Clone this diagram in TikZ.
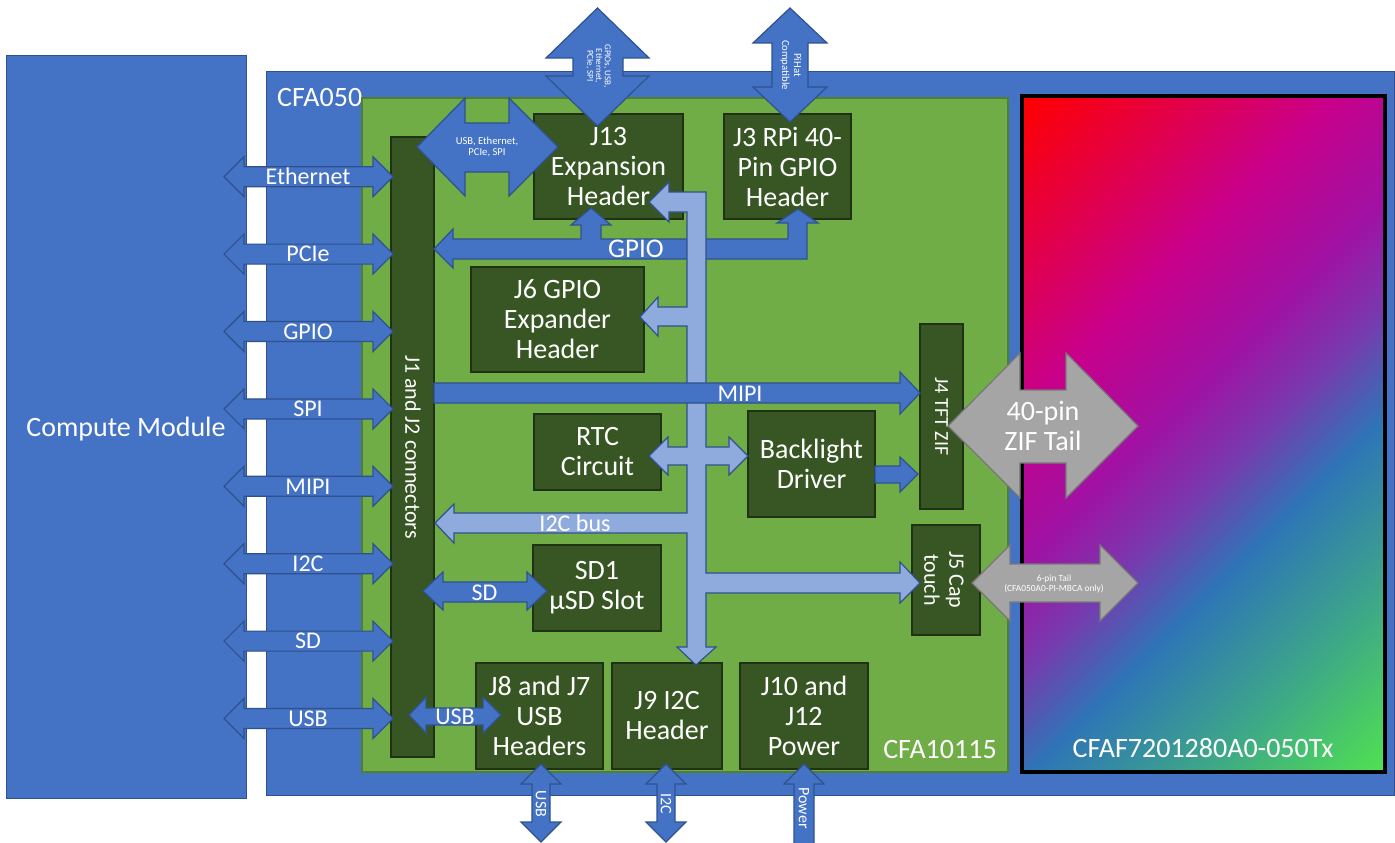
\documentclass[tikz,border=0pt]{standalone}
\usepackage{fontspec}
\setmainfont{Carlito}
\definecolor{mblue}{HTML}{4472C4}
\definecolor{dblue}{HTML}{2F528F}
\definecolor{lblue}{HTML}{8FAADC}
\definecolor{bgreen}{HTML}{70AD47}
\definecolor{bgreenline}{HTML}{507E32}
\definecolor{dgreen}{HTML}{375623}
\definecolor{dgreenline}{HTML}{1F3314}
\definecolor{tgray}{HTML}{A5A5A5}
\definecolor{tgrayline}{HTML}{787878}
\definecolor{dA}{HTML}{FF0000}
\definecolor{dB}{HTML}{C8008A}
\definecolor{dC}{HTML}{A012A4}
\definecolor{dD}{HTML}{7A38AE}
\definecolor{dE}{HTML}{2E75B6}
\definecolor{dF}{HTML}{3DA58A}
\definecolor{dG}{HTML}{50E150}
\pgfdeclarehorizontalshading{dispshade}{100bp}{color(0bp)=(dA); color(25bp)=(dA); color(40bp)=(dB); color(47.5bp)=(dC); color(52.5bp)=(dD); color(58bp)=(dE); color(66bp)=(dF); color(75bp)=(dG); color(100bp)=(dG)}
\tikzset{
  blk/.style={fill=mblue, draw=dblue, line width=1.2pt, line join=miter},
  lblk/.style={fill=lblue, draw=dblue, line width=1.2pt, line join=miter},
  gblk/.style={fill=tgray, draw=tgrayline, line width=1.2pt, line join=miter},
  comp/.style={fill=dgreen, draw=dgreenline, line width=1.5pt, text=white, align=center, inner sep=0pt, font=\fontsize{28}{30}\selectfont},
  lbl/.style={text=white, inner sep=0pt, align=center},
  big/.style={font=\fontsize{28}{30}\selectfont},
  mid/.style={font=\fontsize{24}{26}\selectfont},
}
\begin{document}
\begin{tikzpicture}[x=1pt,y=-1pt]
\useasboundingbox (0,0) rectangle (1395,843);
\fill[white] (0,0) rectangle (1395,843);
% compute module
\draw[fill=mblue, draw=dblue, line width=1pt] (6,56) rectangle (246,798);
\node[lbl, big] (cm) at (126,429) {Compute Module};
% CFA050
\draw[fill=mblue, draw=dblue, line width=1pt] (266,72) rectangle (1394,795);
\node[lbl, big, anchor=west] (cfa050) at (277,98) {CFA050};
% board
\draw[fill=bgreen, draw=bgreenline, line width=1.2pt] (362,98) rectangle (1008,772);
\node[lbl, big] (cfa10115) at (940,750) {CFA10115};
% display
\begin{scope}
\clip (1022,96) rectangle (1385,772);
\shade[shading=dispshade, shading angle=-45] (836,66.5) rectangle (1571,801.5);
\end{scope}
\draw[black, line width=4pt] (1022,96) rectangle (1385,772);
\node[lbl, big] (disp) at (1203,748) {CFAF7201280A0-050Tx};
% components
\node[comp, minimum width=43, minimum height=620] (j1) at (412.5,447) {};
\node[lbl, rotate=-90, font=\fontsize{22}{24}\selectfont] (j1t) at (413,447) {J1 and J2 connectors};
\node[comp, minimum width=149, minimum height=105] (j13) at (608.5,166.5) {J13\\Expansion\\Header};
\node[comp, minimum width=127, minimum height=105] (j3) at (787.5,166.5) {J3 RPi 40-\\Pin GPIO\\Header};
\node[comp, minimum width=173, minimum height=105] (j6) at (557.5,319.5) {J6 GPIO\\Expander\\Header};
\node[comp, minimum width=127, minimum height=76] (rtc) at (597.5,452) {RTC\\Circuit};
\node[comp, minimum width=127, minimum height=106] (bl) at (811.5,464) {Backlight\\Driver};
\node[comp, minimum width=43, minimum height=185] (j4) at (941.5,416.5) {};
\node[lbl, rotate=-90, font=\fontsize{20}{22}\selectfont] (j4t) at (941.5,416.5) {J4 TFT ZIF};
\node[comp, minimum width=68, minimum height=110] (j5) at (946,580) {};
\node[lbl, rotate=-90, font=\fontsize{22}{25}\selectfont] (j5t) at (944,580) {J5 Cap\\touch};
\node[comp, minimum width=128, minimum height=86] (sd1) at (597,588) {SD1\\µSD Slot};
\node[comp, minimum width=127, minimum height=106] (j8) at (539.5,716) {J8 and J7\\USB\\Headers};
\node[comp, minimum width=110, minimum height=106] (j9) at (667,716) {J9 I2C\\Header};
\node[comp, minimum width=128, minimum height=106] (j10) at (804,716) {J10 and\\J12\\Power};
% left arrows
\foreach \c/\t [count=\i] in {176.7/Ethernet,254.1/PCIe,331.5/GPIO,408.9/SPI,486.3/MIPI,563.7/I2C,641.1/SD,718.5/USB}{
  \draw[blk] (224,\c) -- (244,\c-20) -- (244,\c-10) -- (373,\c-10) -- (373,\c-20) -- (393,\c) -- (373,\c+20) -- (373,\c+10) -- (244,\c+10) -- (244,\c+20) -- cycle;
  \node[lbl, mid] (la\i) at (308,\c) {\t};
}
% top diamond
\draw[blk] (417,147) -- (465,98) -- (465,123) -- (509,123) -- (509,98) -- (558,147) -- (509,196) -- (509,172) -- (465,172) -- (465,196) -- cycle;
\node[lbl, font=\fontsize{10.6}{10.7}\selectfont] (dmt) at (487,147) {USB, Ethernet,\\PCIe, SPI};
% top arrows
\draw[blk] (597.5,8) -- (649,58) -- (623,58) -- (623,76) -- (649,76) -- (597.5,126) -- (546,76) -- (573,76) -- (573,58) -- (546,58) -- cycle;
\node[lbl, rotate=-90, font=\fontsize{9}{8.7}\selectfont] (gpt) at (598.5,66) {GPIOs, USB,\\Ethernet,\\PCIe, SPI};
\draw[blk] (790,8) -- (827,43) -- (808,43) -- (808,87) -- (827,87) -- (790,122) -- (753,87) -- (772,87) -- (772,43) -- (753,43) -- cycle;
\node[lbl, rotate=-90, font=\fontsize{10.7}{12}\selectfont] (pht) at (791,65) {PiHat\\Compatible};
% GPIO bus
\draw[blk] (434,249) -- (453,229) -- (453,239) -- (581,239) -- (581,225) -- (571,225) -- (591,208) -- (611,225) -- (601,225) -- (601,239) -- (788,239) -- (788,223) -- (777,223) -- (798,209) -- (818,223) -- (807,223) -- (807,259) -- (453,259) -- (453,268) -- cycle;
\node[lbl, font=\fontsize{27}{29}\selectfont] (gpiot) at (636,249) {GPIO};
% light blue bus
\draw[lblk] (669,192) -- (706,192) -- (706,447) -- (729,447) -- (729,437) -- (748,456) -- (729,475) -- (729,465) -- (706,465) -- (706,573) -- (900,573) -- (900,562) -- (920,583) -- (900,603) -- (900,593) -- (706,593) -- (706,647) -- (716,647) -- (696,665) -- (677,647) -- (687,647) -- (687,533) -- (454,533) -- (454,543) -- (435,523) -- (454,504) -- (454,513) -- (687,513) -- (687,465) -- (668,465) -- (668,475) -- (649,456) -- (668,437) -- (668,447) -- (687,447) -- (687,326) -- (658,326) -- (658,336) -- (640,317) -- (658,297) -- (658,307) -- (687,307) -- (687,212) -- (669,212) -- (669,222) -- (649,202) -- (669,182) -- cycle;
\node[lbl, mid] (i2ct) at (575,523) {I2C bus};
% MIPI
\draw[blk] (434,383) -- (900,383) -- (900,372) -- (920,393) -- (900,414) -- (900,403) -- (434,403) -- cycle;
\node[lbl, mid] (mipit) at (740,394) {MIPI};
% backlight to J4
\draw[blk] (875,466) -- (900,466) -- (900,457) -- (918,474) -- (900,492) -- (900,483) -- (875,483) -- cycle;
% SD
\draw[blk] (423,591) -- (443,572) -- (443,582) -- (527,582) -- (527,572) -- (547,591) -- (527,610) -- (527,602) -- (443,602) -- (443,610) -- cycle;
\node[lbl, mid] (sdt) at (484.5,593) {SD};
% USB
\draw[blk] (409,715) -- (426,697) -- (426,708) -- (483,708) -- (483,697) -- (501,715) -- (483,733) -- (483,725) -- (426,725) -- (426,733) -- cycle;
\node[lbl, mid] (usbt) at (455,717) {USB};
% gray tails
\draw[gblk] (948,426) -- (1020,353) -- (1020,390) -- (1066,390) -- (1066,353) -- (1138,426) -- (1066,498) -- (1066,463) -- (1020,463) -- (1020,498) -- cycle;
\node[lbl, big] (zift) at (1043,426) {40-pin\\ZIF Tail};
\draw[gblk] (972,583) -- (1010,545) -- (1010,564) -- (1100,564) -- (1100,545) -- (1138,583) -- (1100,621) -- (1100,602) -- (1010,602) -- (1010,621) -- cycle;
\node[lbl, font=\fontsize{9.4}{9.6}\selectfont] (sixt) at (1054,584) {6-pin Tail\\(CFA050A0-PI-MBCA only)};
% bottom arrows
\foreach \x/\t [count=\i] in {541/USB,666/I2C}{
  \draw[blk] (\x,764) -- (\x+20,784) -- (\x+9,784) -- (\x+9,822) -- (\x+20,822) -- (\x,842) -- (\x-20,822) -- (\x-9,822) -- (\x-9,784) -- (\x-20,784) -- cycle;
  \node[lbl, rotate=-90, font=\fontsize{16}{18}\selectfont] (bt\i) at (\x,804) {\t};
}
\draw[blk] (804,764) -- (824,784) -- (814,784) -- (814,845) -- (794,845) -- (794,784) -- (784,784) -- cycle;
\node[lbl, rotate=-90, font=\fontsize{16}{18}\selectfont] (pwt) at (804,808) {Power};
\end{tikzpicture}
\end{document}
